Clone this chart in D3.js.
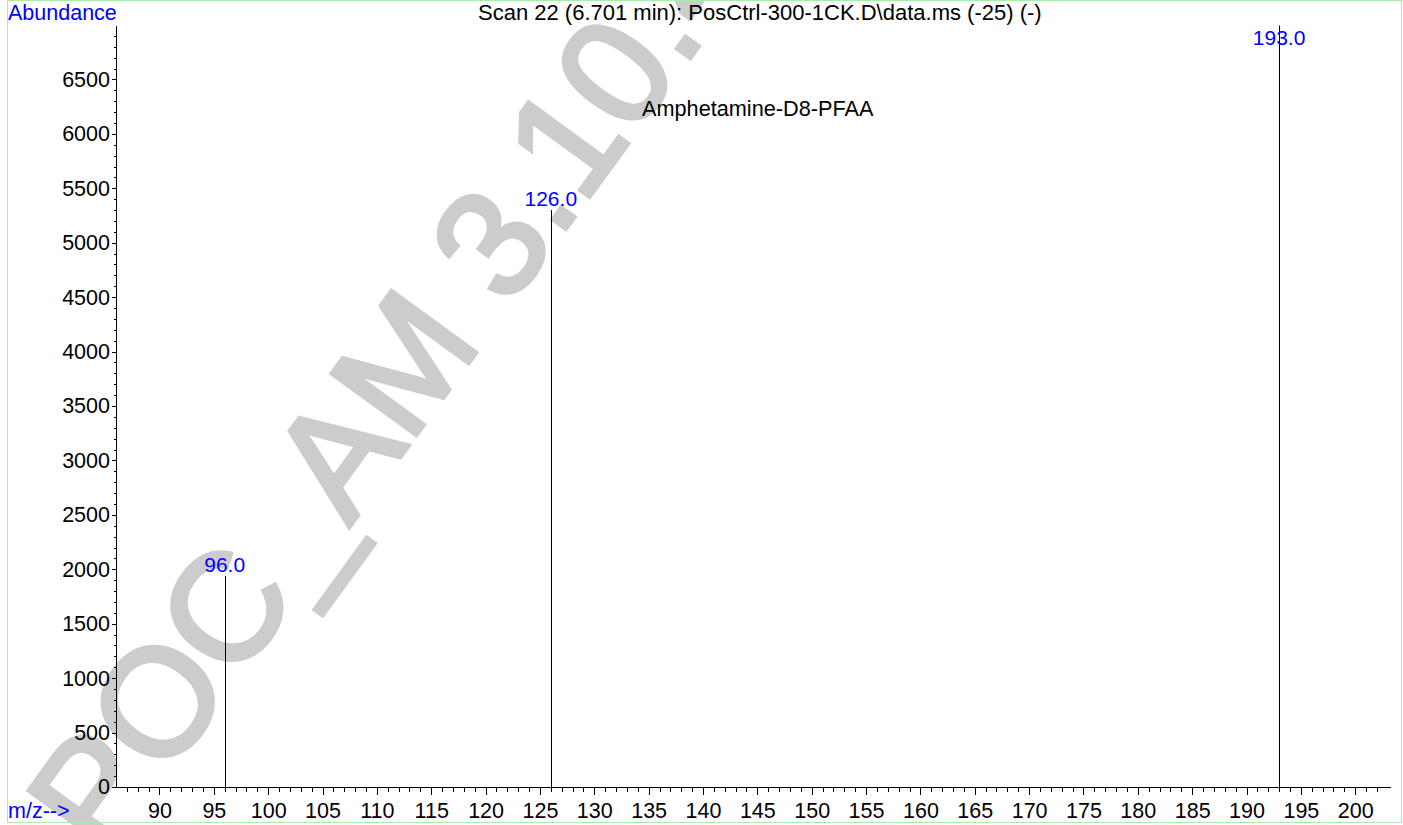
<!DOCTYPE html>
<html lang="en">
<head>
    <meta charset="UTF-8">
    <title>Scan 22 spectrum</title>
    <script type="text/javascript" src="https://cdn.jsdelivr.net/npm/d3@7/dist/d3.min.js"></script>
    <style type="text/css">
        body { margin: 0; background: #fff; }
        svg { display: block; font-family: "Liberation Sans", Arial, sans-serif; }
        .axis text { font-size: 21.5px; fill: #000; }
        .axis path, .axis line { stroke: #000; shape-rendering: crispEdges; }
    </style>
</head>
<body>
    <script type="text/javascript">
        //Width and height
        var w = 1403;
        var h = 825;

        // spectrum peaks
        var mzValues = [96, 126, 193];
        var abundances = [1940, 5300, 6995];
        var peakLabels = ["96.0", "126.0", "193.0"];

        // tick values
        var yMajorTicks = d3.range(0, 7000, 500);
        var yMinorTicks = d3.range(100, 7000, 100);
        var xMajorTicks = d3.range(90, 201, 5);
        var xMinorTicks = d3.range(87, 203, 1);

        var titleText = "Scan 22 (6.701 min): PosCtrl-300-1CK.D\\data.ms (-25) (-)";
        var compoundName = "Amphetamine-D8-PFAA";
        var watermark = "POC_AM 3.10.4";

        var xScale = d3.scaleLinear()
            .domain([86, 203.2])
            .range([116, 1390]);

        var yScale = d3.scaleLinear()
            .domain([0, 7000])
            .range([787, 25]);

        var svg = d3.select("body")
            .append("svg")
            .attr("width", w)
            .attr("height", h);

        // watermark behind everything
        svg.append("text")
            .attr("transform", "translate(106,862) rotate(-54)")
            .attr("font-size", "152px")
            .attr("fill", "#cccccc")
            .attr("stroke", "#cccccc")
            .attr("stroke-width", 4.5)
            .text(watermark);

        //Frame
        svg.append("rect")
            .attr("x", 7.5)
            .attr("y", 0.5)
            .attr("width", 1394)
            .attr("height", 822)
            .attr("fill", "none")
            .attr("stroke", "#a6eea6");

        //Y axis, minor then major
        svg.append("g")
            .attr("class", "axis")
            .attr("transform", "translate(116,0)")
            .call(d3.axisLeft(yScale).tickValues(yMinorTicks).tickSize(2.5).tickFormat(""))
            .select(".domain").remove();

        svg.append("g")
            .attr("class", "axis")
            .attr("transform", "translate(116,0)")
            .call(d3.axisLeft(yScale).tickValues(yMajorTicks).tickSize(4).tickSizeOuter(0)
                .tickPadding(2).tickFormat(d3.format("d")));

        //X axis
        svg.append("g")
            .attr("class", "axis")
            .attr("transform", "translate(0,787)")
            .call(d3.axisBottom(xScale).tickValues(xMinorTicks).tickSize(5).tickFormat(""))
            .select(".domain").remove();

        svg.append("g")
            .attr("class", "axis")
            .attr("transform", "translate(0,787)")
            .call(d3.axisBottom(xScale).tickValues(xMajorTicks).tickSize(8).tickSizeOuter(0).tickPadding(8));

        //Peaks
        svg.selectAll("line.peak")
            .data(mzValues)
            .enter()
            .append("line")
            .attr("class", "peak")
            .attr("x1", function(d) { return Math.round(xScale(d)) + 0.5; })
            .attr("x2", function(d) { return Math.round(xScale(d)) + 0.5; })
            .attr("y1", yScale(0))
            .attr("y2", function(d, i) { return yScale(abundances[i]); })
            .attr("stroke", "#000")
            .attr("stroke-width", 1);

        //Peak labels (kept inside the plot at the top)
        svg.selectAll("text.peaklabel")
            .data(mzValues)
            .enter()
            .append("text")
            .attr("class", "peaklabel")
            .attr("x", function(d) { return xScale(d); })
            .attr("y", function(d, i) { return Math.max(yScale(abundances[i]) - 4, 45); })
            .attr("text-anchor", "middle")
            .attr("font-size", "21px")
            .attr("fill", "#0000ff")
            .text(function(d, i) { return peakLabels[i]; });

        //Texts
        svg.append("text")
            .attr("x", 8)
            .attr("y", 20)
            .attr("font-size", "21.5px")
            .attr("fill", "#0000ff")
            .text("Abundance");

        svg.append("text")
            .attr("x", 8)
            .attr("y", 818)
            .attr("font-size", "21.5px")
            .attr("fill", "#0000ff")
            .text("m/z-->");

        svg.append("text")
            .attr("x", 478)
            .attr("y", 20)
            .attr("font-size", "22px")
            .attr("fill", "#000")
            .text(titleText);

        svg.append("text")
            .attr("x", 642)
            .attr("y", 116)
            .attr("font-size", "21.7px")
            .attr("fill", "#000")
            .text(compoundName);
    </script>
</body>
</html>
